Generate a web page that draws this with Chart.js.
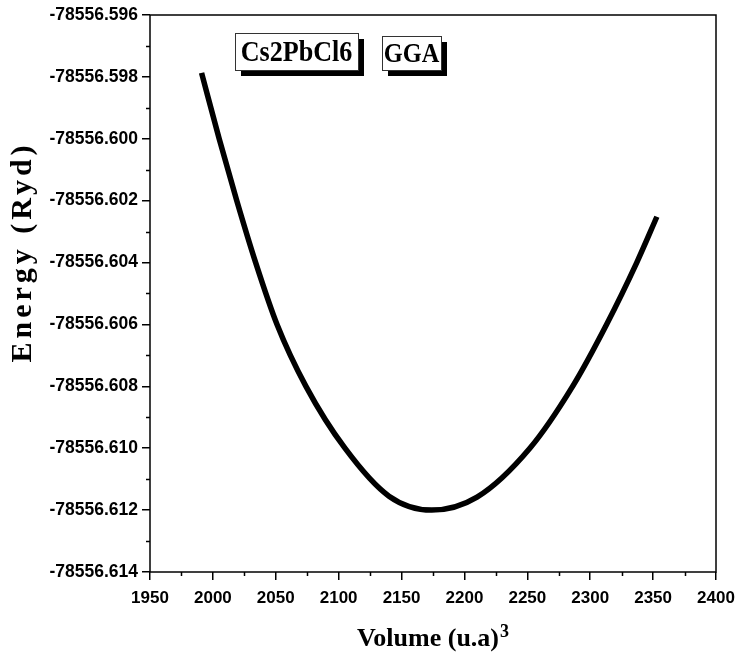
<!DOCTYPE html>
<html>
<head>
<meta charset="utf-8">
<script src="https://cdn.jsdelivr.net/npm/chart.js@4.4.1/dist/chart.umd.min.js"></script>
<style>
  html, body { margin: 0; padding: 0; background: #fff; }
  canvas { display: block; }
</style>
</head>
<body>
<canvas id="eosChart" width="736" height="664"></canvas>
<script>
// E(V) curve for Cs2PbCl6, GGA
const volume = [1991, 2005, 2019, 2034, 2051, 2074, 2105, 2140, 2174, 2210, 2252, 2286, 2313, 2337, 2353];
const energy = [-78556.59787, -78556.600, -78556.602, -78556.604, -78556.606, -78556.608, -78556.610,
                -78556.61155, -78556.6120, -78556.61158, -78556.610, -78556.608, -78556.606, -78556.604,
                -78556.60252];

// axis ranges and tick steps
const xRange = [1950, 2400];
const xStep = 50;
const yRange = [-78556.614, -78556.596];
const yStep = 0.002;

// boxed labels placed in data units (left, top)
const labelText = ['Cs2PbCl6', 'GGA'];
const labelAt = [[2017.6, -78556.59658], [2134.5, -78556.59668]];

const yTitle = 'Energy (Ryd)';
const xTitle = 'Volume (u.a)';
const xTitleSup = '3';

const serif = "'Liberation Serif', 'Times New Roman', serif";

// frame, minor ticks, axis titles and shadowed text boxes
const decorPlugin = {
    id: 'decor',
    afterDraw(chart) {
        const ctx = chart.ctx;
        const area = chart.chartArea;
        const xs = chart.scales.x;
        const ys = chart.scales.y;

        ctx.save();
        ctx.strokeStyle = '#000';
        ctx.lineWidth = 1.5;
        ctx.strokeRect(area.left, area.top, area.right - area.left, area.bottom - area.top);

        // minor ticks halfway between the major ones
        ctx.beginPath();
        for (let v = xRange[0] + xStep / 2; v < xRange[1]; v += xStep) {
            const px = Math.round(xs.getPixelForValue(v)) + 0.5;
            ctx.moveTo(px, area.bottom);
            ctx.lineTo(px, area.bottom + 4);
        }
        for (let i = 0; i < 9; i++) {
            const v = yRange[0] + yStep * i + yStep / 2;
            const py = Math.round(ys.getPixelForValue(v)) + 0.5;
            ctx.moveTo(area.left, py);
            ctx.lineTo(area.left - 4, py);
        }
        ctx.stroke();
        ctx.fillStyle = '#000';

        // x title with a raised exponent
        ctx.font = 'bold 26px ' + serif;
        ctx.textBaseline = 'alphabetic';
        const mainW = ctx.measureText(xTitle).width;
        ctx.font = 'bold 18px ' + serif;
        const supW = ctx.measureText(xTitleSup).width;
        let tx = (area.left + area.right) / 2 - (mainW + supW + 1) / 2;
        ctx.font = 'bold 26px ' + serif;
        ctx.fillText(xTitle, tx, 646);
        ctx.font = 'bold 18px ' + serif;
        ctx.fillText(xTitleSup, tx + mainW + 1, 637);

        // rotated, slightly spaced y title
        ctx.save();
        ctx.translate(31, 252);
        ctx.rotate(-Math.PI / 2);
        ctx.font = 'bold 30px ' + serif;
        ctx.letterSpacing = '4px';
        ctx.textAlign = 'center';
        ctx.fillText(yTitle, 0, 0);
        ctx.restore();

        // text boxes with drop shadow, text a bit condensed
        const boxes = [{ w: 123, h: 37, size: 30 }, { w: 59, h: 34, size: 28 }];
        labelText.forEach((txt, i) => {
            const b = boxes[i];
            const x = Math.round(xs.getPixelForValue(labelAt[i][0]));
            const y = Math.round(ys.getPixelForValue(labelAt[i][1]));
            ctx.fillStyle = '#000';
            ctx.fillRect(x + 6, y + 6, b.w, b.h);
            ctx.fillStyle = '#fff';
            ctx.fillRect(x, y, b.w, b.h);
            ctx.strokeStyle = '#333';
            ctx.lineWidth = 1;
            ctx.strokeRect(x + 0.5, y + 0.5, b.w, b.h);

            ctx.save();
            ctx.font = 'bold ' + b.size + 'px ' + serif;
            ctx.textBaseline = 'middle';
            ctx.textAlign = 'center';
            ctx.translate(x + b.w / 2, y + b.h / 2 + 2);
            ctx.scale(0.87, 1);
            ctx.fillStyle = '#000';
            ctx.fillText(txt, 0, 0);
            ctx.restore();
        });
        ctx.restore();
    }
};

new Chart(document.getElementById('eosChart'), {
    type: 'line',
    data: {
        datasets: [{
            data: volume.map((v, i) => ({ x: v, y: energy[i] })),
            borderColor: '#000',
            borderWidth: 5.5,
            pointRadius: 0,
            cubicInterpolationMode: 'monotone',
            fill: false
        }]
    },
    options: {
        responsive: false,
        animation: false,
        layout: { padding: { top: 15, right: 20, left: 0, bottom: 0 } },
        plugins: {
            legend: { display: false },
            tooltip: { enabled: false }
        },
        scales: {
            x: {
                type: 'linear',
                min: xRange[0],
                max: xRange[1],
                afterFit(scale) {
                    scale.height = 92;
                    scale.paddingLeft = 0;
                    scale.paddingRight = 0;
                },
                border: { display: false },
                grid: { drawOnChartArea: false, tickLength: 8, color: '#000', lineWidth: 1.5 },
                ticks: {
                    stepSize: xStep,
                    padding: 8,
                    color: '#000',
                    maxRotation: 0,
                    font: { family: "'Liberation Sans', Arial, sans-serif", size: 17, weight: 'bold' },
                    callback: v => String(v)
                }
            },
            y: {
                type: 'linear',
                min: yRange[0],
                max: yRange[1],
                afterFit(scale) {
                    scale.width = 150;
                    scale.paddingTop = 0;
                    scale.paddingBottom = 0;
                },
                border: { display: false },
                grid: { drawOnChartArea: false, tickLength: 8, color: '#000', lineWidth: 1.5 },
                ticks: {
                    stepSize: yStep,
                    padding: 4,
                    color: '#000',
                    font: { family: "'Liberation Sans', Arial, sans-serif", size: 17.5, weight: 'bold' },
                    callback: v => v.toFixed(3)
                }
            }
        }
    },
    plugins: [decorPlugin]
});
</script>
</body>
</html>
